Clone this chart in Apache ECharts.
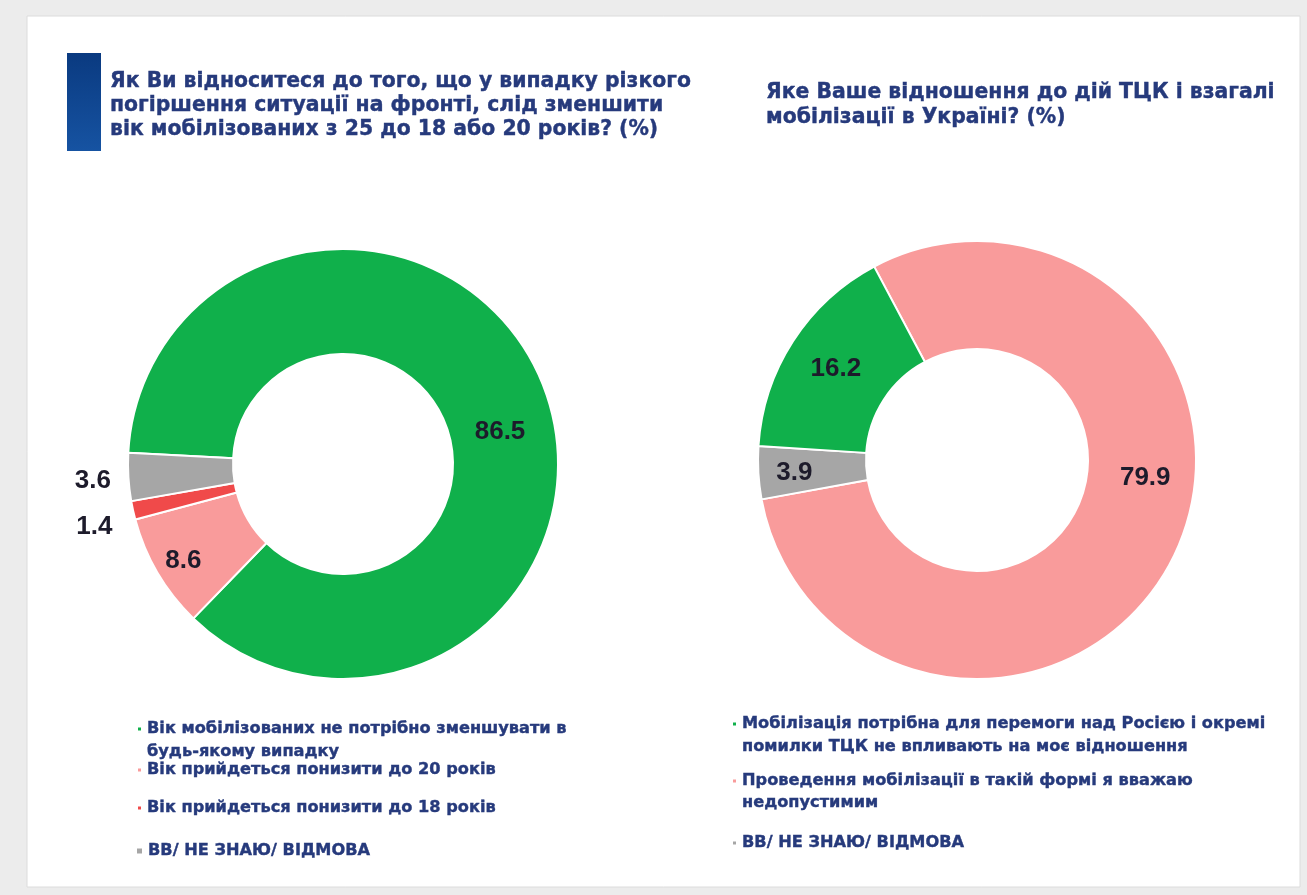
<!DOCTYPE html>
<html>
<head>
<meta charset="utf-8">
<script src="https://cdn.jsdelivr.net/npm/echarts@6/dist/echarts.min.js"></script>
<style>
  html, body { margin: 0; padding: 0; background: #ececec; }
  #main { width: 1307px; height: 895px; }
</style>
</head>
<body>
<div id="main"></div>
<script>
// ліва діаграма
var leftNames = ['Вік мобілізованих не потрібно зменшувати в будь-якому випадку',
                 'Вік прийдеться понизити до 20 років',
                 'Вік прийдеться понизити до 18 років',
                 'ВВ/ НЕ ЗНАЮ/ ВІДМОВА'];
var leftValues = [86.5, 8.6, 1.4, 3.6];
var leftColors = ['#10b04b', '#f99b9b', '#f04a4a', '#a6a6a6'];
// права діаграма
var rightNames = ['Мобілізація потрібна для перемоги над Росією і окремі помилки ТЦК не впливають на моє відношення',
                  'Проведення мобілізації в такій формі я вважаю недопустимим',
                  'ВВ/ НЕ ЗНАЮ/ ВІДМОВА'];
var rightValues = [16.2, 79.9, 3.9];
var rightColors = ['#10b04b', '#f99b9b', '#a6a6a6'];
var rightOrder = [1, 2, 0]; // порядок секторів за годинниковою стрілкою

var leftTitle = 'Як Ви відноситеся до того, що у випадку різкого\nпогіршення ситуації на фронті, слід зменшити\nвік мобілізованих з 25 до 18 або 20 років? (%)';
var rightTitle = 'Яке Ваше відношення до дій ТЦК і взагалі\nмобілізації в Україні? (%)';

// рядки легенди (перенесення як на картинці)
var legendLines = {};
legendLines[leftNames[0]] = ['Вік мобілізованих не потрібно зменшувати в', 'будь-якому випадку'];
legendLines[rightNames[0]] = ['Мобілізація потрібна для перемоги над Росією і окремі', 'помилки ТЦК не впливають на моє відношення'];
legendLines[rightNames[1]] = ['Проведення мобілізації в такій формі я вважаю', 'недопустимим'];

var navy = '#263a7c';
var font = 'Liberation Sans, Arial, sans-serif';
var wideFont = 'DejaVu Sans, Verdana, sans-serif';
var labelOffsetLeft = [[3, 28], [-17, 13], [-87, 27], [-85, 7]];
var labelOffsetRight = [[0, 0], [17, -55], [-15, 3]];

// одна легенда = один рядок тексту; маркер тільки на першому рядку
function legendLine(name, line, left, top, size) {
    var lines = legendLines[name] || [name];
    return {
        data: [name],
        left: left,
        top: top,
        padding: 0,
        icon: 'rect',
        itemWidth: size,
        itemHeight: size,
        selectedMode: false,
        itemStyle: line > 0 ? { opacity: 0 } : {},
        formatter: function () { return lines[line]; },
        textStyle: {
            color: navy,
            fontSize: 16.2,
            fontWeight: 'bold',
            fontFamily: wideFont,
            lineHeight: 22,
            textBorderColor: navy,
            textBorderWidth: 0.4
        }
    };
}

var leftData = leftNames.map(function (n, i) {
    return {
        name: n, value: leftValues[i],
        itemStyle: { color: leftColors[i] },
        label: { offset: labelOffsetLeft[i] }
    };
});
var rightData = rightOrder.map(function (i) {
    return {
        name: rightNames[i], value: rightValues[i],
        itemStyle: { color: rightColors[i] },
        label: { offset: labelOffsetRight[i] }
    };
});

var pieLabel = {
    show: true,
    position: 'inside',
    formatter: function (p) { return p.value.toFixed(1); },
    color: '#1d1b2b',
    fontSize: 26,
    fontWeight: 'bold',
    fontFamily: font
};

var titleStyle = {
    color: navy, fontSize: 20.4, fontWeight: 'bold', lineHeight: 24,
    fontFamily: wideFont, textBorderColor: navy, textBorderWidth: 0.4
};

var myChart = echarts.init(document.getElementById('main'));
var option = {
    backgroundColor: '#ececec',
    animation: false,
    graphic: [
        { type: 'rect', shape: { x: 27, y: 16, width: 1273, height: 871 },
          style: { fill: '#ffffff', stroke: '#dcdcdc', lineWidth: 1 }, z: -10 },
        { type: 'rect', shape: { x: 67, y: 53, width: 34, height: 98 },
          style: { fill: new echarts.graphic.LinearGradient(0, 0, 0, 1, [
              { offset: 0, color: '#0a3a80' }, { offset: 1, color: '#1653a2' }]) } }
    ],
    title: [
        { text: leftTitle, left: 105, top: 65, textStyle: titleStyle },
        { text: rightTitle, left: 761, top: 75,
          textStyle: Object.assign({}, titleStyle, { lineHeight: 25 }) }
    ],
    legend: [
        legendLine(leftNames[0], 0, 136, 718, 5),
        legendLine(leftNames[0], 1, 136, 741, 5),
        legendLine(leftNames[1], 0, 136, 759, 5),
        legendLine(leftNames[2], 0, 136, 797, 5),
        legendLine(leftNames[3], 0, 135, 840, 7),
        legendLine(rightNames[0], 0, 731, 713, 5),
        legendLine(rightNames[0], 1, 731, 736, 5),
        legendLine(rightNames[1], 0, 731, 770, 5),
        legendLine(rightNames[1], 1, 731, 792, 5),
        legendLine(rightNames[2], 0, 731, 832, 5)
    ],
    series: [
        {
            type: 'pie',
            center: [343, 464],
            radius: [110, 215],
            startAngle: 177,
            clockwise: true,
            avoidLabelOverlap: false,
            itemStyle: { borderColor: '#ffffff', borderWidth: 2 },
            label: pieLabel,
            labelLine: { show: false },
            emphasis: { disabled: true },
            data: leftData
        },
        {
            type: 'pie',
            center: [977, 460],
            radius: [111, 219],
            startAngle: 118,
            clockwise: true,
            avoidLabelOverlap: false,
            itemStyle: { borderColor: '#ffffff', borderWidth: 2 },
            label: pieLabel,
            labelLine: { show: false },
            emphasis: { disabled: true },
            data: rightData
        }
    ]
};
myChart.setOption(option);
</script>
</body>
</html>
